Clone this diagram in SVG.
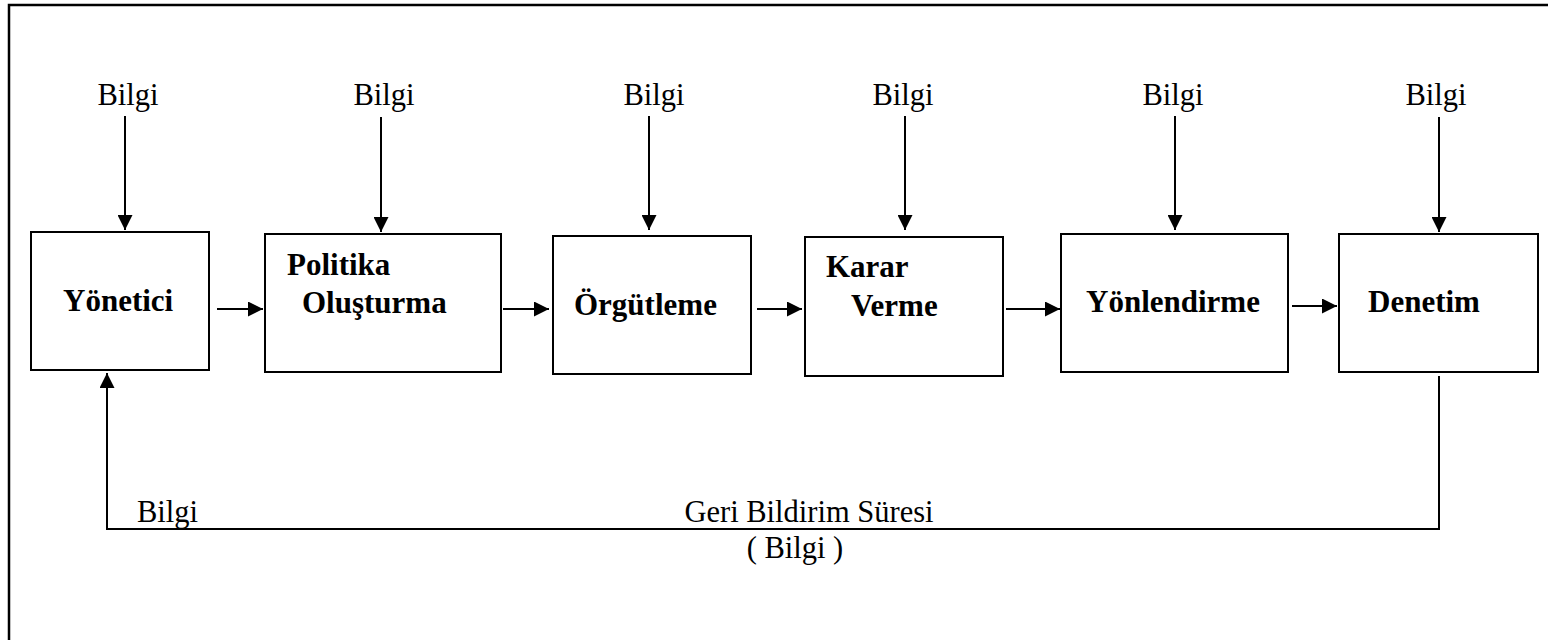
<svg xmlns="http://www.w3.org/2000/svg" width="1548" height="640" viewBox="0 0 1548 640">
  <defs>
    <marker id="arrow" viewBox="0 0 15 15" refX="15" refY="7.5" markerWidth="15" markerHeight="15" markerUnits="userSpaceOnUse" orient="auto">
      <path d="M0,0 L15,7.5 L0,15 Z" fill="#000"/>
    </marker>
    <style>
      .box { fill: #fff; stroke: #000; stroke-width: 2; }
      .lbl { font-family: "Liberation Serif", "Times New Roman", serif; font-size: 31px; font-weight: bold; fill: #000; }
      .info { font-family: "Liberation Serif", "Times New Roman", serif; font-size: 30.5px; fill: #000; }
      .con { fill: none; stroke: #000; stroke-width: 2; }
      .arr { marker-end: url(#arrow); }
    </style>
  </defs>
  <rect width="1548" height="640" fill="#fff"/>

  <!-- outer frame -->
  <path d="M9,650 V5 H1560" fill="none" stroke="#000" stroke-width="2.5"/>

  <!-- incoming information labels -->
  <g id="info-labels" class="info" text-anchor="middle">
    <text x="128" y="105">Bilgi</text>
    <text x="384" y="105">Bilgi</text>
    <text x="654" y="105">Bilgi</text>
    <text x="903" y="105">Bilgi</text>
    <text x="1173" y="105">Bilgi</text>
    <text x="1436" y="105">Bilgi</text>
  </g>

  <g id="yonetici">
    <rect class="box" x="31" y="232" width="178" height="138"/>
    <text class="lbl" x="63" y="311">Yönetici</text>
  </g>
  <g id="politika">
    <rect class="box" x="265" y="234" width="236" height="138"/>
    <text class="lbl" x="287" y="275">Politika</text>
    <text class="lbl" x="302" y="313">Oluşturma</text>
  </g>
  <g id="orgutleme">
    <rect class="box" x="553" y="236" width="198" height="138"/>
    <text class="lbl" x="574" y="315">Örgütleme</text>
  </g>
  <g id="karar">
    <rect class="box" x="805" y="237" width="198" height="139"/>
    <text class="lbl" x="826" y="277">Karar</text>
    <text class="lbl" x="851" y="316">Verme</text>
  </g>
  <g id="yonlendirme">
    <rect class="box" x="1061" y="234" width="227" height="138"/>
    <text class="lbl" x="1086" y="312">Yönlendirme</text>
  </g>
  <g id="denetim">
    <rect class="box" x="1339" y="234" width="199" height="138"/>
    <text class="lbl" x="1368" y="312">Denetim</text>
  </g>

  <g id="connectors" class="con">
    <!-- information inputs -->
    <line class="arr" x1="125" y1="116" x2="125" y2="230"/>
    <line class="arr" x1="381" y1="117" x2="381" y2="232"/>
    <line class="arr" x1="649" y1="116" x2="649" y2="230"/>
    <line class="arr" x1="905" y1="116" x2="905" y2="230"/>
    <line class="arr" x1="1175" y1="116" x2="1175" y2="230"/>
    <line class="arr" x1="1439" y1="117" x2="1439" y2="232"/>
    <!-- process flow -->
    <line class="arr" x1="217" y1="309" x2="263" y2="309"/>
    <line class="arr" x1="503" y1="309" x2="549" y2="309"/>
    <line class="arr" x1="757" y1="309" x2="802" y2="309"/>
    <line class="arr" x1="1006" y1="309" x2="1060" y2="309"/>
    <line class="arr" x1="1292" y1="306" x2="1337" y2="306"/>
    <!-- feedback loop -->
    <path class="arr" d="M1439,376 V529 H107 V373"/>
  </g>

  <g id="feedback-labels" class="info">
    <text x="137" y="522">Bilgi</text>
    <text x="809" y="522" text-anchor="middle">Geri Bildirim Süresi</text>
    <text x="795" y="558" text-anchor="middle">( Bilgi )</text>
  </g>
</svg>
